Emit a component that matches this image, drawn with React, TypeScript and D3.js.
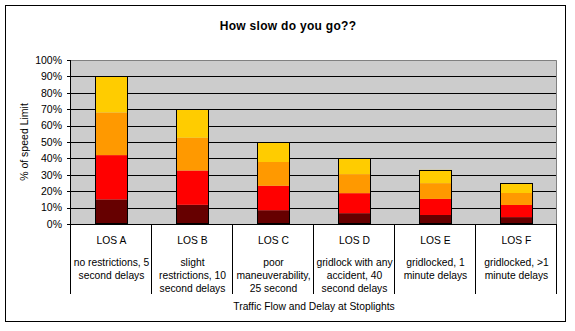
import React from "react";
import * as d3 from "d3";

const categories = ["LOS A", "LOS B", "LOS C", "LOS D", "LOS E", "LOS F"];
const descriptions = [
  ["no restrictions, 5", "second delays"],
  ["slight", "restrictions, 10", "second delays"],
  ["poor", "maneuverability,", "25 second"],
  ["gridlock with any", "accident, 40", "second delays"],
  ["gridlocked, 1", "minute delays"],
  ["gridlocked, >1", "minute delays"],
];
const seriesDark = [15, 11.7, 8.4, 6.6, 5.5, 4.2];
const seriesRed = [27, 20.9, 14.9, 12.2, 9.8, 7.4];
const seriesOrange = [26, 20, 14.5, 11.6, 9.6, 7.3];
const seriesYellow = [22, 17.4, 12.2, 9.6, 8.1, 6.1];
const seriesList = [seriesDark, seriesRed, seriesOrange, seriesYellow];
const seriesColors = ["#660000", "#FF0000", "#FF9900", "#FFCC00"];
const yTicks = [0, 10, 20, 30, 40, 50, 60, 70, 80, 90, 100];

const title = "How slow do you go??";
const yTitle = "% of speed Limit";
const xTitle = "Traffic Flow and Delay at Stoplights";

export default function App() {
  const W = 575, H = 331;
  const left = 71, right = 557, top = 60, bottom = 224;
  const tableBottom = 294;
  const x = d3.scaleBand<string>().domain(categories).range([left, right]).paddingInner(0).paddingOuter(0);
  const y = d3.scaleLinear().domain([0, 100]).range([bottom, top]);
  const barW = 33;
  const font = "'Liberation Sans', Arial, sans-serif";

  const stacked = categories.map((c, i) => {
    let acc = 0;
    return seriesList.map((s, k) => {
      const y0 = acc;
      acc += s[i];
      return { k, y0, y1: acc };
    });
  });

  const boundaries = categories.map((c) => x(c)!).concat([right]);

  return (
    <svg width={W} height={H} style={{ position: "absolute", left: 0, top: 0 }} fontFamily={font}>
      <rect x={0} y={0} width={W} height={H} fill="#fff" />
      <rect x={5.5} y={5.5} width={560} height={316} fill="#fff" stroke="#000" strokeWidth={1} />
      <text x={288} y={30} textAnchor="middle" fontSize={12} fontWeight="bold" letterSpacing={0.3}>{title}</text>
      {/* plot area */}
      <rect x={left} y={top} width={right - left} height={bottom - top} fill="#CCCCCC" />
      <path d={`M${left},${top + 0.5}H${right - 0.5}V${bottom}`} fill="none" stroke="#808080" strokeWidth={1} />
      {yTicks.filter((t) => t > 0 && t < 100).map((t) => (
        <line key={t} x1={left} x2={right - 1} y1={Math.round(y(t)) + 0.5} y2={Math.round(y(t)) + 0.5} stroke="#000" />
      ))}
      {/* bars */}
      {categories.map((c, i) => {
        const cx = x(c)! + x.bandwidth() / 2;
        const bx = Math.round(cx - barW / 2);
        const total = stacked[i][stacked[i].length - 1].y1;
        return (
          <g key={c}>
            {stacked[i].map((s) => (
              <rect key={s.k} x={bx} y={y(s.y1)} width={barW} height={y(s.y0) - y(s.y1)} fill={seriesColors[s.k]} />
            ))}
            <rect x={bx + 0.5} y={Math.round(y(total)) + 0.5} width={barW - 1} height={Math.round(bottom - y(total)) - 1} fill="none" stroke="#000" />
          </g>
        );
      })}
      {/* axes */}
      <line x1={left} x2={right} y1={bottom + 0.5} y2={bottom + 0.5} stroke="#000" />
      <line x1={left - 0.5} x2={left - 0.5} y1={top} y2={tableBottom} stroke="#000" />
      {yTicks.map((t) => (
        <g key={t}>
          <line x1={left - 4} x2={left} y1={Math.round(y(t)) + 0.5} y2={Math.round(y(t)) + 0.5} stroke="#000" />
          <text x={62} y={y(t)} dy="0.36em" textAnchor="end" fontSize={10.5}>{t + "%"}</text>
        </g>
      ))}
      <text transform={`translate(28,${(top + bottom) / 2}) rotate(-90)`} textAnchor="middle" fontSize={10.5}>{yTitle}</text>
      {/* category table */}
      {boundaries.map((bx, i) => (
        <line key={i} x1={Math.round(bx) - 0.5} x2={Math.round(bx) - 0.5} y1={bottom} y2={tableBottom} stroke="#000" />
      ))}
      {categories.map((c, i) => {
        const cx = x(c)! + x.bandwidth() / 2;
        return (
          <g key={c}>
            <text x={cx} y={244} textAnchor="middle" fontSize={10.3}>{c}</text>
            {descriptions[i].map((ln, j) => (
              <text key={j} x={cx} y={265.5 + j * 13.3} textAnchor="middle" fontSize={10.3}>{ln}</text>
            ))}
          </g>
        );
      })}
      <text x={(left + right) / 2} y={310} textAnchor="middle" fontSize={10.3}>{xTitle}</text>
    </svg>
  );
}
